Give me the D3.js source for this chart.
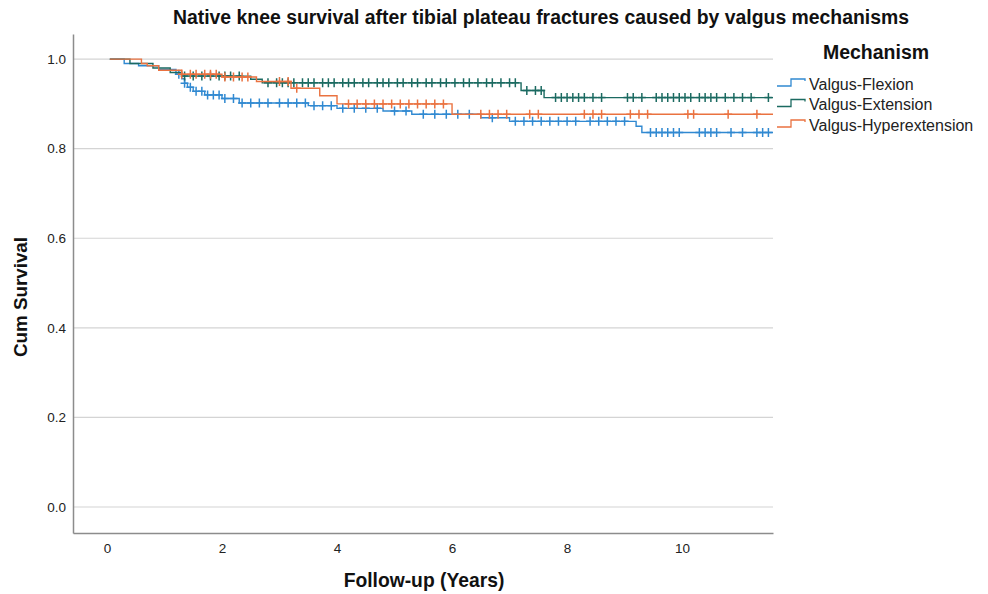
<!DOCTYPE html>
<html>
<head>
<meta charset="utf-8">
<script src="https://cdn.jsdelivr.net/npm/d3@7"></script>
<style>
  body { margin: 0; background: #fff; }
  text { font-family: "Liberation Sans", Arial, sans-serif; }
</style>
</head>
<body>
<svg width="988" height="594"></svg>
<script>
// step times (years) and survival after each step
const flexTimes = [0.05, 0.3, 0.55, 0.9, 1.2, 1.3, 1.35, 1.4, 1.5, 1.7, 2.0, 2.3, 3.5, 4.0, 4.8, 5.3, 6.5, 7.0, 9.2, 9.3];
const flexSurv  = [1.0, 0.99, 0.985, 0.977, 0.966, 0.956, 0.946, 0.937, 0.928, 0.92, 0.912, 0.902, 0.896, 0.89, 0.884, 0.877, 0.869, 0.861, 0.85, 0.836];
const flexCens  = [1.25, 1.35, 1.45, 1.55, 1.65, 1.75, 1.85, 1.95, 2.05, 2.2, 2.35, 2.5, 2.65, 2.8, 3.0, 3.15, 3.3, 3.45, 3.6, 3.75, 3.9, 4.1, 4.3, 4.5, 4.7, 5.0, 5.2, 5.5, 5.7, 5.9, 6.1, 6.3, 6.7, 7.1, 7.25, 7.4, 7.55, 7.7, 7.85, 8.0, 8.15, 8.4, 8.55, 8.7, 8.85, 9.0, 9.45, 9.55, 9.65, 9.75, 9.85, 9.95, 10.3, 10.4, 10.5, 10.6, 10.85, 11.05, 11.3, 11.4, 11.5];

const extTimes = [0.05, 0.4, 0.8, 1.1, 1.3, 2.5, 2.7, 7.2, 7.6];
const extSurv  = [1.0, 0.99, 0.98, 0.97, 0.962, 0.955, 0.947, 0.93, 0.914];
const extCens  = [1.35, 1.5, 1.65, 1.8, 1.95, 2.05, 2.15, 2.3, 2.8, 2.95, 3.05, 3.15, 3.25, 3.4, 3.5, 3.6, 3.75, 3.85, 3.95, 4.1, 4.2, 4.3, 4.45, 4.55, 4.7, 4.8, 4.9, 5.05, 5.15, 5.3, 5.4, 5.55, 5.65, 5.8, 5.9, 6.05, 6.2, 6.3, 6.45, 6.6, 6.7, 6.85, 7.0, 7.1, 7.3, 7.45, 7.55, 7.8, 7.9, 8.0, 8.1, 8.2, 8.3, 8.45, 8.6, 9.05, 9.15, 9.3, 9.55, 9.65, 9.75, 9.85, 9.95, 10.05, 10.15, 10.3, 10.4, 10.5, 10.6, 10.75, 10.9, 11.05, 11.2, 11.5];

const hypTimes = [0.05, 0.6, 0.7, 0.9, 1.3, 2.0, 2.6, 3.2, 3.7, 4.0, 6.0];
const hypSurv  = [1.0, 0.99, 0.985, 0.975, 0.966, 0.96, 0.95, 0.935, 0.918, 0.9, 0.877];
const hypCens  = [1.3, 1.45, 1.55, 1.7, 1.8, 1.9, 2.05, 2.2, 2.35, 2.45, 3.0, 3.15, 3.3, 4.2, 4.35, 4.5, 4.65, 4.8, 4.95, 5.1, 5.25, 5.4, 5.55, 5.7, 5.85, 6.5, 6.65, 6.8, 6.95, 7.35, 7.5, 8.3, 8.45, 8.6, 9.1, 9.25, 9.4, 10.1, 10.2, 10.8, 11.3];

const groups = ['Valgus-Flexion', 'Valgus-Extension', 'Valgus-Hyperextension'];
const colors = ['#3089d1', '#1b6a61', '#ea7240'];
const xTicks = [0, 2, 4, 6, 8, 10];
const yTicks = [0.0, 0.2, 0.4, 0.6, 0.8, 1.0];
const tMax = 11.58;

const series = [
  {name: groups[0], times: flexTimes, surv: flexSurv, cens: flexCens, color: colors[0]},
  {name: groups[1], times: extTimes, surv: extSurv, cens: extCens, color: colors[1]},
  {name: groups[2], times: hypTimes, surv: hypSurv, cens: hypCens, color: colors[2]}
];

const svg = d3.select('svg');
const margin = {left: 73, top: 34, right: 215, bottom: 61};
const width = +svg.attr('width');
const height = +svg.attr('height');
const innerWidth = width - margin.left - margin.right;
const innerHeight = height - margin.top - margin.bottom;

const xScale = d3.scaleLinear().domain([-0.59, tMax]).range([0, innerWidth]);
const yScale = d3.scaleLinear().domain([-0.058, 1.056]).range([innerHeight, 0]);

const g = svg.append('g').attr('transform', `translate(${margin.left},${margin.top})`);

// gridlines
g.selectAll('.grid').data(yTicks).enter().append('line')
  .attr('x1', 0).attr('x2', innerWidth)
  .attr('y1', d => yScale(d)).attr('y2', d => yScale(d))
  .attr('stroke', '#d4d4d4').attr('stroke-width', 1.2);

// axes
const yaxis = g.append('g')
  .call(d3.axisLeft(yScale).tickValues(yTicks).tickFormat(d3.format('.1f')).tickSize(0).tickPadding(7));
const xaxis = g.append('g').attr('transform', `translate(0,${innerHeight})`)
  .call(d3.axisBottom(xScale).tickValues(xTicks).tickSize(0).tickPadding(10));
[yaxis, xaxis].forEach(a => {
  a.attr('font-size', null).attr('font-family', null);
  a.select('.domain').attr('stroke', '#8c8c8c').attr('stroke-width', 1.5);
  a.selectAll('text').style('font-size', '13.5px').attr('fill', '#222');
});

const stepValue = (s, t) => {
  let v = 1;
  s.times.forEach((tt, i) => { if (tt <= t) v = s.surv[i]; });
  return v;
};

series.forEach(s => {
  const pts = s.times.map((t, i) => [t, s.surv[i]]);
  pts.push([tMax, s.surv[s.surv.length - 1]]);
  const line = d3.line().x(d => xScale(d[0])).y(d => yScale(d[1])).curve(d3.curveStepAfter);
  g.append('path').datum(pts)
    .attr('d', line).attr('fill', 'none')
    .attr('stroke', s.color).attr('stroke-width', 1.4);

  // censor marks
  g.selectAll(null).data(s.cens).enter().append('path')
    .attr('d', d => {
      const x = xScale(d), y = yScale(stepValue(s, d));
      return `M${x},${y - 4.5}V${y + 4.5}M${x - 4},${y}H${x + 4}`;
    })
    .attr('stroke', s.color).attr('stroke-width', 1.5).attr('fill', 'none');
});

// title and axis labels
svg.append('text').attr('x', 541).attr('y', 24).attr('text-anchor', 'middle')
  .style('font-size', '19.4px').attr('font-weight', 'bold').attr('fill', '#111')
  .text('Native knee survival after tibial plateau fractures caused by valgus mechanisms');
svg.append('text').attr('x', 424).attr('y', 587).attr('text-anchor', 'middle')
  .style('font-size', '19.3px').attr('font-weight', 'bold').attr('fill', '#111')
  .text('Follow-up (Years)');
svg.append('text').attr('transform', 'translate(27,297) rotate(-90)').attr('text-anchor', 'middle')
  .style('font-size', '18.8px').attr('font-weight', 'bold').attr('fill', '#111')
  .text('Cum Survival');

// legend
const legend = svg.append('g');
legend.append('text').attr('x', 876).attr('y', 59).attr('text-anchor', 'middle')
  .style('font-size', '19.5px').attr('font-weight', 'bold').attr('fill', '#111').text('Mechanism');
const items = legend.selectAll('.item').data(series).enter().append('g')
  .attr('transform', (d, i) => `translate(0,${84 + i * 20.5})`);
items.append('path')
  .attr('d', 'M777,2H791V-5H805V-3')
  .attr('fill', 'none').attr('stroke', d => d.color).attr('stroke-width', 1.3);
items.append('text').attr('x', 809).attr('y', 5.5)
  .style('font-size', '16px').attr('fill', '#222').text(d => d.name);
</script>
</body>
</html>
